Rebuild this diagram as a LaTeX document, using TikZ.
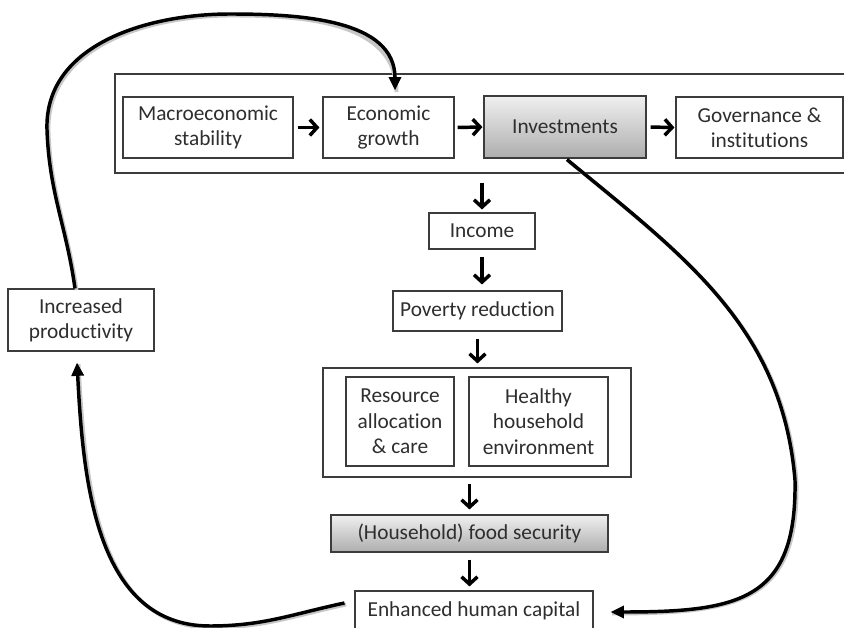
\documentclass[tikz,border=0pt]{standalone}
\usepackage{fontspec}
\setmainfont{Carlito}[Ligatures=NoCommon]
\usetikzlibrary{arrows.meta,shadows}
\definecolor{boxline}{HTML}{3C3C3C}
\definecolor{txt}{HTML}{2E2E2E}
\tikzset{
  box/.style={draw=boxline, line width=0.8pt, fill=white, inner sep=0pt, align=center,
    text=txt, font=\fontsize{16}{19}\selectfont,
    drop shadow={shadow xshift=1pt, shadow yshift=-1pt, fill=black, opacity=0.18}},
  shadebox/.style={box, top color=black!6, bottom color=black!32},
  groupbox/.style={draw=boxline, line width=0.8pt, fill=white, inner sep=0pt,
    drop shadow={shadow xshift=1pt, shadow yshift=-1pt, fill=black, opacity=0.15}},
  flow/.style={line width=2.6pt, -{Straight Barb[length=5.5pt,width=12pt]}},
  loop/.style={line width=2.6pt, -{Triangle[length=10pt,width=9pt]},
    preaction={draw=black!22, line width=2.8pt, -, transform canvas={shift={(1.2pt,-1.2pt)}}}}
}
\begin{document}
\begin{tikzpicture}[x=0.75pt,y=-0.75pt]
\useasboundingbox (0,0) rectangle (844,628);
% top group
\node[groupbox, minimum width=570pt, minimum height=74.25pt] (topgroup) at (495,123.5) {};
\node[box, minimum width=127.5pt, minimum height=45.75pt] (macro) at (208,127.5) {Macroeconomic\\stability};
\node[box, minimum width=98.25pt, minimum height=45.75pt] (econ) at (388.5,127.5) {Economic\\growth};
\node[shadebox, minimum width=121.5pt, minimum height=46.5pt] (inv) at (565,127) {Investments};
\node[box, minimum width=125.25pt, minimum height=45.75pt] (gov) at (759.5,127.5) {Governance \&\\institutions};
% middle column
\node[box, minimum width=79.5pt, minimum height=27pt] (income) at (482,231) {Income};
\node[box, minimum width=126.75pt, minimum height=30pt] (poverty) at (477.5,311) {Poverty reduction};
\node[groupbox, minimum width=231pt, minimum height=81.75pt] (group2) at (477,422.5) {};
\node[box, minimum width=81pt, minimum height=66.75pt] (resource) at (400,421.5) {Resource\\allocation\\\& care};
\node[box, minimum width=104.25pt, minimum height=66.75pt] (healthy) at (538.5,421.5) {Healthy\\household\\environment};
\node[shadebox, minimum width=207.75pt, minimum height=27.75pt] (food) at (469.5,533.5) {(Household) food security};
\node[box, minimum width=178.5pt, minimum height=30pt] (human) at (474,611) {Enhanced human capital};
\node[box, minimum width=109.5pt, minimum height=46.5pt] (prod) at (81,320) {Increased\\productivity};
% horizontal arrows
\draw[flow, shorten <=3pt, shorten >=2.25pt] (macro.east) -- (econ.west);
\draw[flow, shorten <=2.25pt, shorten >=0.75pt] (econ.east) -- (inv.west);
\draw[flow, shorten <=3pt, shorten >=0.75pt] (inv.east) -- (gov.west);
% vertical arrows
\draw[flow, shorten <=6.75pt, shorten >=2.25pt] (income.north |- topgroup.south) -- (income.north);
\draw[flow, shorten <=5.25pt, shorten >=4.5pt] (income.south) -- (income.south |- poverty.north);
\draw[flow, shorten <=5.25pt, shorten >=3pt] (poverty.south) -- (poverty.south |- group2.north);
\draw[flow, shorten <=4.5pt, shorten >=3.75pt] (food.north |- group2.south) -- (food.north);
\draw[flow, shorten <=5.25pt, shorten >=3pt] (food.south) -- (food.south |- human.north);
% feedback loops
\draw[loop] ([shift={(-6,0)}]prod.north) to[out=98,in=-88] (47,130) to[out=92,in=180] (230,14)
  to[out=0,in=90] ([shift={(6.5,-6)}]econ.north);
\draw[loop] ([shift={(2,1)}]inv.south) .. controls (685,257) and (782,327) .. (795,480)
  .. controls (797,600) and (740,612) .. ([shift={(17,1)}]human.east);
\draw[loop] ([shift={(-10,-8)}]human.west) to[out=192,in=0] (210,626)
  to[out=180,in=-87] ([shift={(-4,11)}]prod.south);
\end{tikzpicture}
\end{document}
